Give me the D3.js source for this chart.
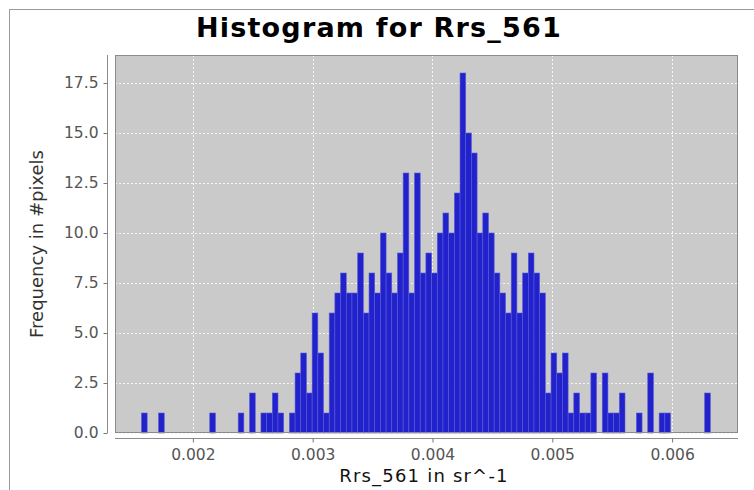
<!DOCTYPE html>
<html>
<head>
<meta charset="utf-8">
<script src="https://cdn.jsdelivr.net/npm/d3@7"></script>
<style>
    html, body { margin: 0; padding: 0; background: #fff; }
    svg { display: block; }
</style>
</head>
<body>
<div id="chart"></div>
<script>
// Histogram of Rrs_561, 100 equal bins between the data min and max
const dataMin = 0.001571;
const dataMax = 0.006319;
const binCounts = [
    1, 0, 0, 1, 0, 0, 0, 0, 0, 0,
    0, 0, 1, 0, 0, 0, 0, 1, 0, 2,
    0, 1, 1, 2, 1, 0, 1, 3, 4, 2,
    6, 4, 1, 6, 7, 8, 7, 7, 9, 6,
    8, 7, 10, 8, 7, 9, 13, 7, 13, 8,
    9, 8, 10, 11, 10, 12, 18, 15, 14, 10,
    11, 10, 8, 7, 6, 9, 6, 8, 9, 8,
    7, 2, 4, 3, 4, 1, 2, 1, 1, 3,
    0, 3, 1, 1, 2, 0, 0, 1, 0, 3,
    0, 1, 1, 0, 0, 0, 0, 0, 0, 2,
];
const xTicks = [0.002, 0.003, 0.004, 0.005, 0.006];
const yTicks = [0, 2.5, 5, 7.5, 10, 12.5, 15, 17.5];

const titleText = 'Histogram for Rrs_561';
const xLabel = 'Rrs_561 in sr^-1';
const yLabel = 'Frequency in #pixels';

const W = 754, H = 490;
const plot = { left: 115, right: 738, top: 55, bottom: 433 };

const svg = d3.select('#chart').append('svg')
    .attr('width', W)
    .attr('height', H);

// outer frame
svg.append('rect')
    .attr('x', 9.5).attr('y', 9.5)
    .attr('width', W + 10).attr('height', H + 10)
    .attr('fill', '#fff')
    .attr('stroke', '#9a9a9a');

const x = d3.scaleLinear().domain([0.00135, 0.00655]).range([plot.left, plot.right]);
const y = d3.scaleLinear().domain([0, 18.9]).range([plot.bottom, plot.top]);

const binWidth = (dataMax - dataMin) / binCounts.length;
const bins = binCounts.map(function (c, i) {
    return { x0: dataMin + i * binWidth, x1: dataMin + (i + 1) * binWidth, count: c };
});

svg.append('rect')
    .attr('x', plot.left).attr('y', plot.top)
    .attr('width', plot.right - plot.left).attr('height', plot.bottom - plot.top)
    .attr('fill', '#cacaca');

// dashed white grid
const grid = svg.append('g').attr('stroke', '#f4f4f4').attr('stroke-width', 1).attr('stroke-dasharray', '2,2');
grid.selectAll('.gx').data(xTicks).join('line')
    .attr('x1', function (d) { return Math.round(x(d)) + 0.5; })
    .attr('x2', function (d) { return Math.round(x(d)) + 0.5; })
    .attr('y1', plot.top).attr('y2', plot.bottom);
grid.selectAll('.gy').data(yTicks).join('line')
    .attr('y1', function (d) { return Math.round(y(d)) + 0.5; })
    .attr('y2', function (d) { return Math.round(y(d)) + 0.5; })
    .attr('x1', plot.left).attr('x2', plot.right);

svg.append('g').selectAll('rect')
    .data(bins.filter(function (b) { return b.count > 0; }))
    .join('rect')
    .attr('x', function (d) { return x(d.x0); })
    .attr('width', function (d) { return x(d.x1) - x(d.x0); })
    .attr('y', function (d) { return y(d.count); })
    .attr('height', function (d) { return y(0) - y(d.count); })
    .attr('fill', '#2222cc')
    .attr('stroke', '#5a5ad8')
    .attr('stroke-width', 0.6);

svg.append('rect')
    .attr('x', plot.left + 0.5).attr('y', plot.top + 0.5)
    .attr('width', plot.right - plot.left - 1).attr('height', plot.bottom - plot.top - 1)
    .attr('fill', 'none')
    .attr('stroke', '#8c8c8c');

// axes, offset from the plot like JFreeChart does
const xAxis = d3.axisBottom(x).tickValues(xTicks).tickFormat(d3.format('.3f')).tickSize(4).tickPadding(6);
const yAxis = d3.axisLeft(y).tickValues(yTicks).tickFormat(d3.format('.1f')).tickSize(4).tickPadding(5);

const gx = svg.append('g').attr('transform', 'translate(0,438.5)').call(xAxis);
const gy = svg.append('g').attr('transform', 'translate(107.5,0)').call(yAxis);

[gx, gy].forEach(function (g) {
    g.select('.domain').attr('stroke', '#8c8c8c');
    g.selectAll('.tick line').attr('stroke', '#777');
    g.selectAll('.tick text')
        .attr('fill', '#555')
        .style('font-family', '"DejaVu Sans", sans-serif')
        .style('font-size', '15.5px');
});
gx.select('.domain').attr('d', 'M' + plot.left + ',0H' + plot.right);
gy.select('.domain').attr('d', 'M0,' + plot.top + 'V' + plot.bottom);

svg.append('text')
    .attr('x', 379).attr('y', 37)
    .attr('text-anchor', 'middle')
    .style('font-family', '"DejaVu Sans", sans-serif')
    .style('font-weight', 'bold')
    .style('font-size', '27px')
    .style('letter-spacing', '1.2px')
    .attr('fill', '#000')
    .text(titleText);

svg.append('text')
    .attr('x', 424).attr('y', 482)
    .attr('text-anchor', 'middle')
    .style('font-family', '"DejaVu Sans", sans-serif')
    .style('font-size', '18px')
    .style('letter-spacing', '1.2px')
    .attr('fill', '#111')
    .text(xLabel);

svg.append('text')
    .attr('transform', 'translate(43,244) rotate(-90)')
    .attr('text-anchor', 'middle')
    .style('font-family', '"DejaVu Sans", sans-serif')
    .style('font-size', '18px')
    .attr('fill', '#333')
    .text(yLabel);
</script>
</body>
</html>
